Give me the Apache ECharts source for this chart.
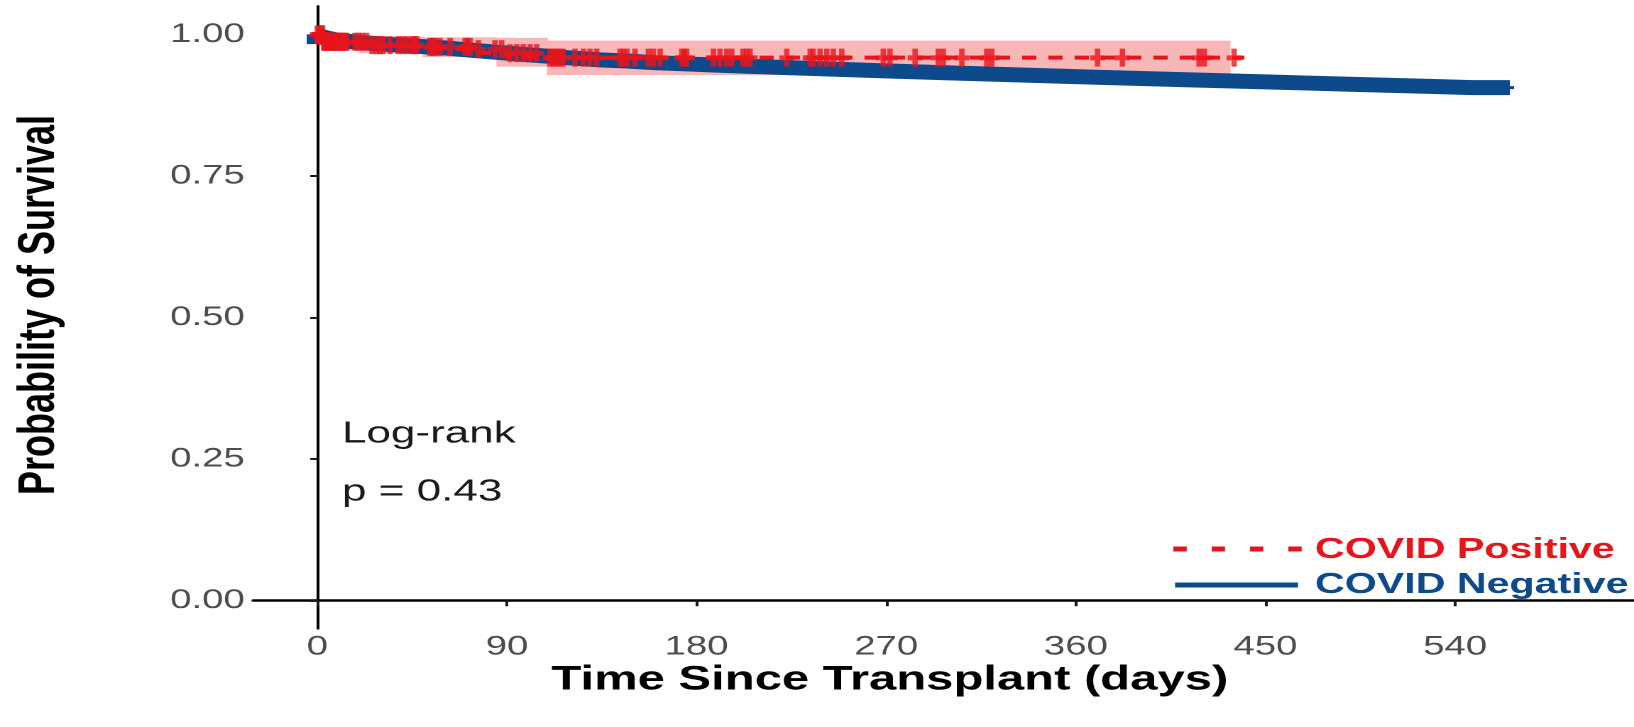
<!DOCTYPE html>
<html>
<head>
<meta charset="utf-8">
<script src="https://cdn.jsdelivr.net/npm/echarts@6/dist/echarts.min.js"></script>
<style>
  html, body { margin: 0; padding: 0; background: #fff; }
  #wrap { width: 1634px; height: 727px; overflow: hidden; position: relative; }
  /* the figure is drawn narrow and widened horizontally */
  #chart { width: 1151px; height: 727px; transform: scaleX(1.41964); transform-origin: 0 0; }
</style>
</head>
<body>
<div id="wrap"><div id="chart"></div></div>
<script>
// Kaplan-Meier estimate, COVID negative recipients (step points)
const blueDays = [0, 2, 5, 9, 14, 20, 27, 35, 43, 52, 61, 70, 80, 90, 100, 111, 122, 134, 147, 160, 174, 188, 203, 218, 234, 250, 266, 283, 300, 318, 336, 354, 372, 391, 410, 430, 450, 470, 490, 510, 530, 548, 566, 568];
const blueSurv = [1.000, 0.996, 0.993, 0.990, 0.988, 0.986, 0.984, 0.982, 0.980, 0.978, 0.976, 0.973, 0.970, 0.967, 0.964, 0.961, 0.958, 0.955, 0.953, 0.950, 0.948, 0.946, 0.944, 0.942, 0.940, 0.938, 0.936, 0.934, 0.932, 0.930, 0.928, 0.926, 0.924, 0.922, 0.920, 0.918, 0.916, 0.914, 0.912, 0.910, 0.908, 0.906, 0.906, 0.906];
// last censoring time of the negative group (dense censoring up to here)
const blueCensorEnd = 566;

// Kaplan-Meier estimate, COVID positive recipients
const redDays = [0, 3, 26, 53, 74, 90, 110, 440];
const redSurv = [1.000, 0.987, 0.981, 0.978, 0.974, 0.967, 0.959, 0.959];

// censoring times, COVID positive recipients
const redCensor = [0, 0.7, 1.3, 2, 2.5, 3, 3.5, 4, 4.5, 5, 5.5, 6, 6.5, 7, 7.6, 8.2, 8.8, 9.4, 10, 10.8, 11.4, 12, 13, 14, 17.9, 19.5, 21.1, 23.4, 26, 28.2, 29.7, 31.3, 34.5, 38.4, 40.4, 42.4, 44.8, 46, 47.2, 53.5, 54.7, 55.9, 58.2, 63, 70.1, 71.3, 72.5, 76.4, 84.3, 87.5, 91.5, 94.6, 97.8, 101, 104.1, 110.4, 111.6, 112.8, 114, 115.2, 116.6, 122.3, 126.3, 129.4, 132.6, 143.7, 145.3, 147, 150.8, 157.1, 159.5, 162.7, 173, 174.2, 175.3, 188, 191.1, 194.3, 196.7, 202, 203.7, 205.4, 222.8, 233.9, 235.3, 238.6, 241.8, 244.9, 248.9, 268.6, 271.8, 283.7, 294.7, 297.1, 305.9, 317.7, 320.1, 370.3, 382.1, 418.5, 421, 435.1];

// 95% confidence band of the positive group
const ciDays  = [0, 3, 20, 50, 85, 109, 433];
const ciLower = [0.990, 0.972, 0.967, 0.960, 0.943, 0.928];
const ciUpper = [1.000, 0.998, 0.996, 0.995, 0.994, 0.989];

// axis ticks
const xTicks = [0, 90, 180, 270, 360, 450, 540];
const yTicks = [0, 0.25, 0.5, 0.75, 1];

const RED = '#e8141b';
const BLUE = '#0d4a8c';
const FONT = '"Liberation Sans", Arial, sans-serif';

const pairs = (xs, ys) => xs.map((x, i) => [x, ys[i]]);
const stepAt = (days, surv, d) => {
  let k = 0;
  for (let i = 0; i < days.length; i++) if (days[i] <= d) k = i;
  return surv[k];
};

const bluePts = pairs(blueDays, blueSurv);
const blueBand = bluePts.filter(p => p[0] <= blueCensorEnd);
const redPts = pairs(redDays, redSurv);
const redMarks = redCensor.map(d => [d, stepAt(redDays, redSurv, d)]);
const ciRects = ciLower.map((lo, i) => [ciDays[i], ciDays[i + 1], lo, ciUpper[i]]);

const chart = echarts.init(document.getElementById('chart'), null, { renderer: 'canvas', devicePixelRatio: 2 });

chart.setOption({
  animation: false,
  backgroundColor: '#ffffff',
  grid: { left: 178.4, right: 0, top: 6.1, bottom: 98.4, containLabel: false },
  xAxis: {
    type: 'value', min: -30.4, max: 624.9,
    axisLine: { show: true, lineStyle: { color: '#000', width: 2.5 } },
    axisTick: { show: true, length: 6, lineStyle: { color: '#1a1a1a', width: 2 }, customValues: xTicks },
    axisLabel: { color: '#4d4d4d', fontSize: 27, fontFamily: FONT, margin: 5, customValues: xTicks },
    splitLine: { show: false }
  },
  yAxis: {
    type: 'value', min: -0.05, max: 1.05,
    axisLine: { show: true, lineStyle: { color: '#000', width: 2 } },
    axisTick: { show: true, length: 5, lineStyle: { color: '#1a1a1a', width: 2 }, customValues: yTicks },
    axisLabel: { color: '#4d4d4d', fontSize: 27, fontFamily: FONT, margin: 6, customValues: yTicks,
                 formatter: v => v.toFixed(2) },
    splitLine: { show: false }
  },
  series: [
    {
      name: 'CI', type: 'custom', z: 1, clip: true,
      encode: { x: [0, 1], y: [2, 3] },
      data: ciRects,
      renderItem: (params, api) => {
        const a = api.coord([api.value(0), api.value(3)]);
        const b = api.coord([api.value(1), api.value(2)]);
        return { type: 'rect', shape: { x: a[0], y: a[1], width: b[0] - a[0] + 0.6, height: b[1] - a[1] },
                 style: { fill: '#f8b7b7' } };
      }
    },
    {
      name: 'COVID Negative', type: 'line', step: 'start', z: 2, symbol: 'none',
      data: bluePts, lineStyle: { color: BLUE, width: 3 }
    },
    {
      name: 'COVID Negative censored', type: 'line', step: 'start', z: 3, symbol: 'none',
      data: blueBand, lineStyle: { color: BLUE, width: 15, join: 'miter' }
    },
    {
      name: 'COVID Positive', type: 'line', step: 'start', z: 4, symbol: 'none',
      data: redPts, lineStyle: { color: RED, width: 4, type: [10, 8.5] }
    },
    {
      name: 'COVID Positive censored', type: 'scatter', z: 5,
      symbol: 'path://M0,6H10V10.5H0Z M3.2,0H6.8V16H3.2Z',
      symbolSize: [10.5, 18], itemStyle: { color: RED }, data: redMarks
    }
  ],
  graphic: [
    { type: 'text', x: 27.9, y: 305, rotation: Math.PI / 2,
      style: { text: 'Probability of Survival', fill: '#000', fontSize: 36, fontWeight: 'bold', fontFamily: FONT,
               align: 'center', verticalAlign: 'middle' } },
    { type: 'text', x: 626.8, y: 680,
      style: { text: 'Time Since Transplant (days)', fill: '#000', fontSize: 34.5, fontWeight: 'bold', fontFamily: FONT,
               align: 'center', verticalAlign: 'middle' } },
    { type: 'text', x: 240.9, y: 434,
      style: { text: 'Log-rank', fill: '#1a1a1a', fontSize: 31, fontFamily: FONT, align: 'left', verticalAlign: 'middle' } },
    { type: 'text', x: 240.9, y: 492,
      style: { text: 'p = 0.43', fill: '#1a1a1a', fontSize: 31, fontFamily: FONT, align: 'left', verticalAlign: 'middle' } },
    { type: 'line', shape: { x1: 826.5, y1: 549, x2: 917, y2: 549 },
      style: { stroke: RED, lineWidth: 5, lineDash: [9.4, 17.6] } },
    { type: 'line', shape: { x1: 827.7, y1: 585, x2: 914.3, y2: 585 },
      style: { stroke: BLUE, lineWidth: 5 } },
    { type: 'text', x: 926.3, y: 550,
      style: { text: 'COVID Positive', fill: RED, fontSize: 29, fontWeight: 'bold', fontFamily: FONT,
               align: 'left', verticalAlign: 'middle' } },
    { type: 'text', x: 926.3, y: 585,
      style: { text: 'COVID Negative', fill: BLUE, fontSize: 29, fontWeight: 'bold', fontFamily: FONT,
               align: 'left', verticalAlign: 'middle' } }
  ]
});
</script>
</body>
</html>
